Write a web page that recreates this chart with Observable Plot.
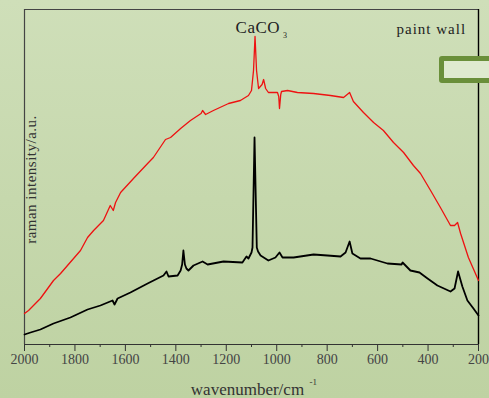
<!DOCTYPE html>
<html>
<head>
<meta charset="utf-8">
<script src="https://cdn.jsdelivr.net/npm/d3@7"></script>
<script src="https://cdn.jsdelivr.net/npm/@observablehq/plot@0.6"></script>
<style>
  html, body { margin: 0; padding: 0; }
  body { width: 489px; height: 398px; overflow: hidden; position: relative;
         background: linear-gradient(to bottom, #cfdfb9 0%, #c6d8ad 50%, #bed2a2 100%); }
  #chart { position: absolute; left: 0; top: 0; }
  #badge { position: absolute; left: 439px; top: 56px; width: 60px; height: 17px;
           background: #dfeacf; border: 5px solid #6a8f3a; border-radius: 3px; }
</style>
</head>
<body>
<div id="chart"></div>
<div id="badge"></div>
<script>
// wavenumber (cm^-1) and raman intensity (a.u.)
const redWavenumber = [2000,1984,1937,1885,1857,1778,1750,1726,1687,1660,1648,1639,1619,1568,1512,1489,1441,1421,1381,1342,1300,1294,1282,1251,1191,1144,1112,1100,1092,1086,1080,1072,1058,1052,1044,1033,997,992,989,984,981,957,918,854,787,735,711,696,656,616,577,537,497,458,430,390,351,311,295,283,271,240,200];
const redIntensity  = [31,34,46,64,71,94,107,114,124,139,134,142,152,166,181,187,205,207,216,224,231,234,230,234,241,244,249,254,274,308,274,256,260,265,256,252,252,248,236,250,253,254,252,251,249,247,252,243,232,222,214,202,192,179,171,154,137,119,119,122,111,87,64];

const blackWavenumber = [2000,1976,1937,1885,1818,1750,1699,1651,1643,1631,1580,1512,1449,1437,1429,1393,1381,1375,1370,1364,1358,1350,1330,1294,1274,1211,1136,1120,1112,1100,1096,1088,1079,1074,1064,1033,1005,989,977,933,854,799,747,727,711,700,668,628,561,505,501,470,434,402,363,311,295,281,264,244,220,200];
const blackIntensity  = [10,12,15,21,27,35,39,44,40,46,52,61,69,73,68,69,74,80,94,80,76,74,79,83,80,83,82,88,86,92,97,207,97,93,89,84,87,92,87,87,90,89,88,92,103,91,86,86,81,80,82,74,72,66,59,53,56,73,58,44,36,29];

const majorTicks = [2000,1800,1600,1400,1200,1000,800,600,400,200];
const minorTicks = [1900,1700,1500,1300,1100,900,700,500,300];

const red = redWavenumber.map((w, i) => ({w, v: redIntensity[i]}));
const black = blackWavenumber.map((w, i) => ({w, v: blackIntensity[i]}));

const serif = "'Liberation Serif', 'DejaVu Serif', serif";

const plot = Plot.plot({
  width: 489,
  height: 398,
  marginLeft: 24,
  marginRight: 11,
  marginTop: 9,
  marginBottom: 54,
  style: { background: "transparent", fontFamily: serif, fontSize: "13px", color: "#333", overflow: "visible" },
  x: { domain: [2000, 200], axis: null },
  y: { domain: [0, 335], axis: null },
  marks: [
    Plot.axisX({ ticks: majorTicks, tickSize: 7, tickPadding: 3, stroke: "#333", fill: "#444", fontSize: 14, tickFormat: d => String(d), label: null }),
    Plot.axisX({ ticks: minorTicks, tickSize: 3, stroke: "#333", tickFormat: () => "", label: null }),
    Plot.ruleY([0], { stroke: "#333", strokeWidth: 1.2 }),
    Plot.ruleY([335], { stroke: "#444", strokeWidth: 1.2 }),
    Plot.ruleX([2000], { stroke: "#444", strokeWidth: 1.2 }),
    Plot.ruleX([200], { stroke: "#000", strokeWidth: 1.4 }),
    Plot.line(red, { x: "w", y: "v", stroke: "#ee1111", strokeWidth: 1.3 }),
    Plot.line(black, { x: "w", y: "v", stroke: "#000", strokeWidth: 1.8 }),
    Plot.text(["CaCO"], { x: 1163, y: 312, textAnchor: "start", lineAnchor: "bottom", fontSize: 17, fill: "#222" }),
    Plot.text(["3"], { x: 975, y: 307, textAnchor: "start", lineAnchor: "bottom", fontSize: 8, fill: "#222" }),
    Plot.text(["paint wall"], { x: 525, y: 311, textAnchor: "start", lineAnchor: "bottom", fontSize: 15, fill: "#222" }),
    Plot.text(["wavenumber/cm"], { x: 1116, y: -50, textAnchor: "middle", lineAnchor: "bottom", fontSize: 17, fill: "#333" }),
    Plot.text(["-1"], { x: 870, y: -40, textAnchor: "start", lineAnchor: "bottom", fontSize: 9, fill: "#333" }),
    Plot.text(["raman intensity/a.u."], { x: 1956, y: 165, rotate: -90, textAnchor: "middle", lineAnchor: "bottom", fontSize: 15, fill: "#333" })
  ]
});
d3.select(plot).selectAll("text").each(function () {
  const t = this.textContent;
  if (t === "paint wall") this.setAttribute("letter-spacing", "1");
  if (t === "CaCO") this.setAttribute("letter-spacing", "0.5");
  if (t === "raman intensity/a.u.") this.setAttribute("letter-spacing", "0.5");
});
document.getElementById("chart").appendChild(plot);
</script>
</body>
</html>
